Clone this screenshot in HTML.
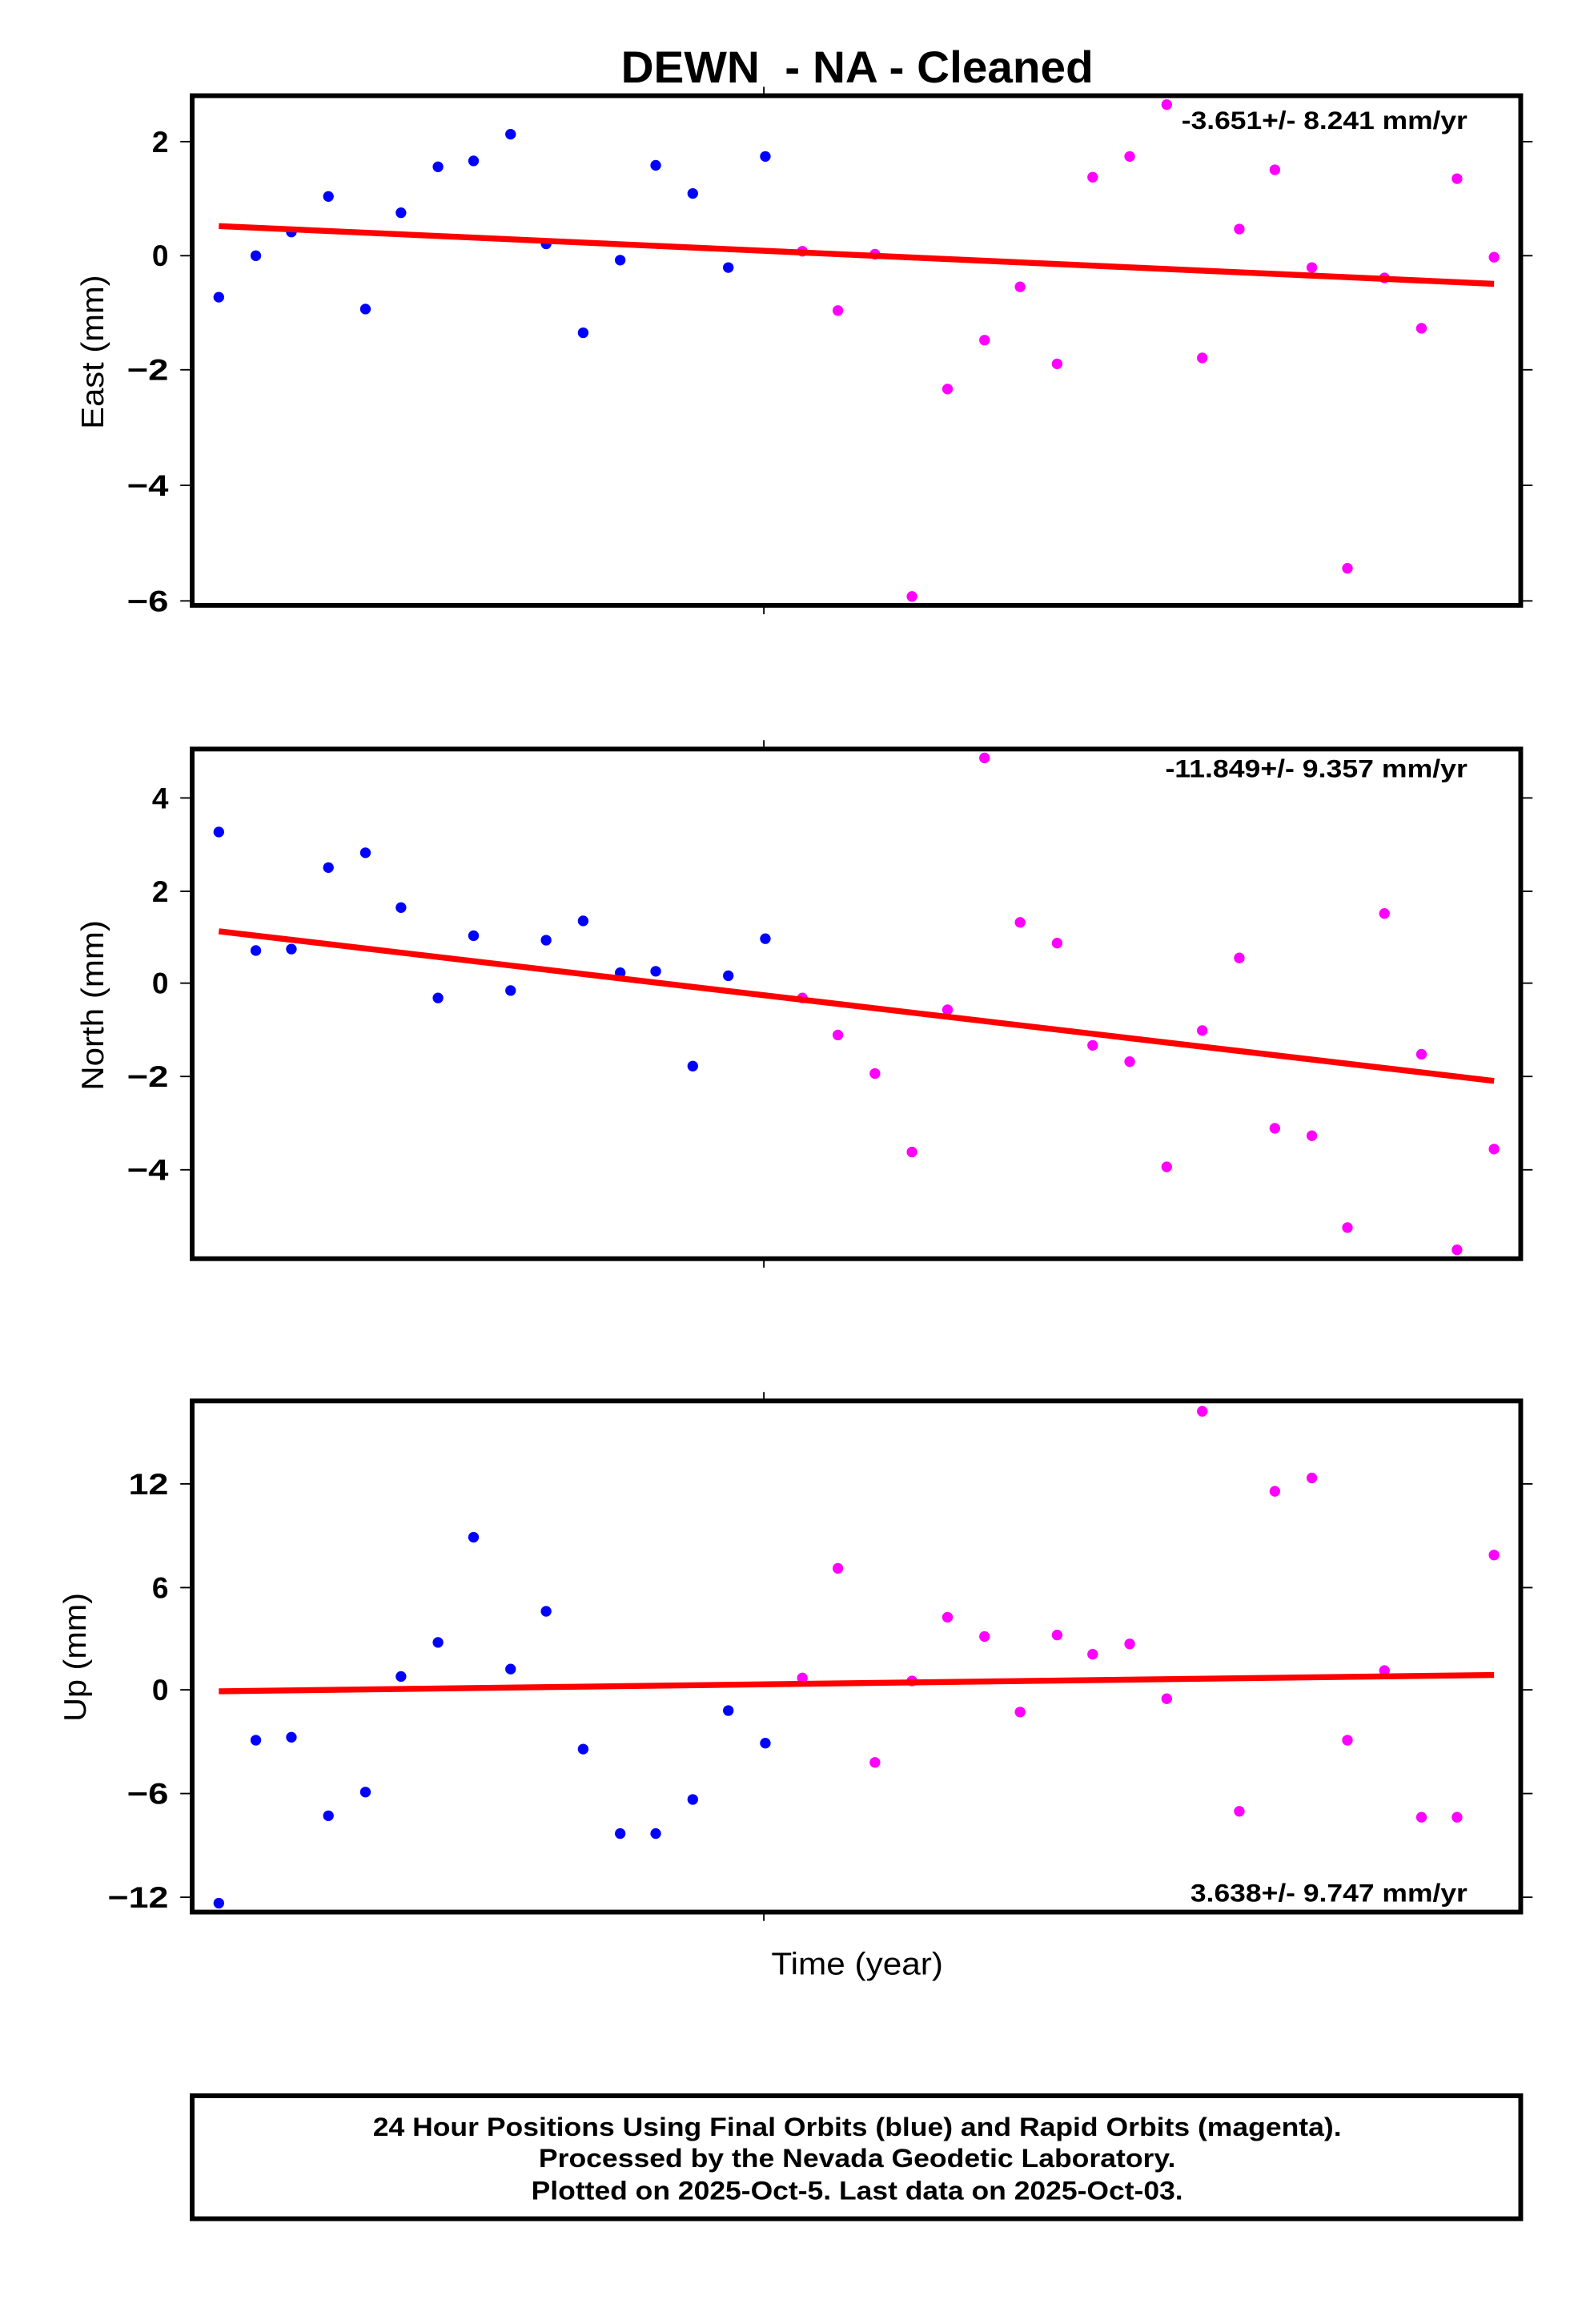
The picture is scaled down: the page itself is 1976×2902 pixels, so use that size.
<!DOCTYPE html>
<html><head><meta charset="utf-8"><style>html,body{margin:0;padding:0;background:#fff}svg{display:block}</style></head>
<body>
<svg width="1976" height="2902" viewBox="0 0 1976 2902" xmlns="http://www.w3.org/2000/svg">
<rect width="1976" height="2902" fill="#fff"/>
<g transform="translate(1.35,1.1) scale(1.85)" font-family="Liberation Sans, Arial, sans-serif">
<text x="578" y="55" font-size="30" font-weight="bold" text-anchor="middle" textLength="319" lengthAdjust="spacingAndGlyphs" xml:space="preserve">DEWN  - NA - Cleaned</text>

<!-- Panel 1 -->
<g stroke="#000" stroke-width="1">
<line x1="121" y1="95" x2="129" y2="95"/><line x1="121" y1="172" x2="129" y2="172"/><line x1="121" y1="249" x2="129" y2="249"/><line x1="121" y1="327" x2="129" y2="327"/><line x1="121" y1="405" x2="129" y2="405"/>
<line x1="1026" y1="95" x2="1034" y2="95"/><line x1="1026" y1="172" x2="1034" y2="172"/><line x1="1026" y1="249" x2="1034" y2="249"/><line x1="1026" y1="327" x2="1034" y2="327"/><line x1="1026" y1="405" x2="1034" y2="405"/>
<line x1="515" y1="58" x2="515" y2="64"/><line x1="515" y1="408" x2="515" y2="414"/>
</g>
<g font-size="20" font-weight="bold" text-anchor="end">
<text x="113" y="102">2</text><text x="113" y="179">0</text><text x="113" y="256" textLength="28" lengthAdjust="spacingAndGlyphs">−2</text><text x="113" y="334" textLength="28" lengthAdjust="spacingAndGlyphs">−4</text><text x="113" y="412" textLength="28" lengthAdjust="spacingAndGlyphs">−6</text>
</g>
<text transform="translate(69,237) rotate(-90)" font-size="21" text-anchor="middle" textLength="104" lengthAdjust="spacingAndGlyphs">East (mm)</text>
<g fill="#00f">
<circle cx="147" cy="200" r="3.6"/><circle cx="172" cy="172" r="3.6"/><circle cx="196" cy="156" r="3.6"/><circle cx="221" cy="132" r="3.6"/><circle cx="246" cy="208" r="3.6"/><circle cx="270" cy="143" r="3.6"/><circle cx="295" cy="112" r="3.6"/><circle cx="319" cy="108" r="3.6"/><circle cx="344" cy="90" r="3.6"/><circle cx="368" cy="164" r="3.6"/><circle cx="393" cy="224" r="3.6"/><circle cx="418" cy="175" r="3.6"/><circle cx="442" cy="111" r="3.6"/><circle cx="467" cy="130" r="3.6"/><circle cx="491" cy="180" r="3.6"/><circle cx="516" cy="105" r="3.6"/>
</g>
<g fill="#f0f">
<circle cx="541" cy="169" r="3.6"/><circle cx="565" cy="209" r="3.6"/><circle cx="590" cy="171" r="3.6"/><circle cx="615" cy="402" r="3.6"/><circle cx="639" cy="262" r="3.6"/><circle cx="664" cy="229" r="3.6"/><circle cx="688" cy="193" r="3.6"/><circle cx="713" cy="245" r="3.6"/><circle cx="737" cy="119" r="3.6"/><circle cx="762" cy="105" r="3.6"/><circle cx="787" cy="70" r="3.6"/><circle cx="811" cy="241" r="3.6"/><circle cx="836" cy="154" r="3.6"/><circle cx="860" cy="114" r="3.6"/><circle cx="885" cy="180" r="3.6"/><circle cx="909" cy="383" r="3.6"/><circle cx="934" cy="187" r="3.6"/><circle cx="959" cy="221" r="3.6"/><circle cx="983" cy="120" r="3.6"/><circle cx="1008" cy="173" r="3.6"/>
</g>
<line x1="147" y1="152" x2="1008" y2="191" stroke="#f00" stroke-width="4"/>
<text x="990" y="86.5" font-size="17" font-weight="bold" text-anchor="end" textLength="193" lengthAdjust="spacingAndGlyphs">-3.651+/- 8.241 mm/yr</text>
<rect x="129" y="64" width="897" height="344" fill="none" stroke="#000" stroke-width="3.2"/>

<!-- Panel 2 -->
<g stroke="#000" stroke-width="1">
<line x1="121" y1="538" x2="129" y2="538"/><line x1="121" y1="601" x2="129" y2="601"/><line x1="121" y1="663" x2="129" y2="663"/><line x1="121" y1="726" x2="129" y2="726"/><line x1="121" y1="789" x2="129" y2="789"/>
<line x1="1026" y1="538" x2="1034" y2="538"/><line x1="1026" y1="601" x2="1034" y2="601"/><line x1="1026" y1="663" x2="1034" y2="663"/><line x1="1026" y1="726" x2="1034" y2="726"/><line x1="1026" y1="789" x2="1034" y2="789"/>
<line x1="515" y1="499" x2="515" y2="505"/><line x1="515" y1="849" x2="515" y2="855"/>
</g>
<g font-size="20" font-weight="bold" text-anchor="end">
<text x="113" y="545">4</text><text x="113" y="608">2</text><text x="113" y="670">0</text><text x="113" y="733" textLength="28" lengthAdjust="spacingAndGlyphs">−2</text><text x="113" y="796" textLength="28" lengthAdjust="spacingAndGlyphs">−4</text>
</g>
<text transform="translate(69,678) rotate(-90)" font-size="21" text-anchor="middle" textLength="115" lengthAdjust="spacingAndGlyphs">North (mm)</text>
<g fill="#00f">
<circle cx="147" cy="561" r="3.6"/><circle cx="172" cy="641" r="3.6"/><circle cx="196" cy="640" r="3.6"/><circle cx="221" cy="585" r="3.6"/><circle cx="246" cy="575" r="3.6"/><circle cx="270" cy="612" r="3.6"/><circle cx="295" cy="673" r="3.6"/><circle cx="319" cy="631" r="3.6"/><circle cx="344" cy="668" r="3.6"/><circle cx="368" cy="634" r="3.6"/><circle cx="393" cy="621" r="3.6"/><circle cx="418" cy="656" r="3.6"/><circle cx="442" cy="655" r="3.6"/><circle cx="467" cy="719" r="3.6"/><circle cx="491" cy="658" r="3.6"/><circle cx="516" cy="633" r="3.6"/>
</g>
<g fill="#f0f">
<circle cx="541" cy="673" r="3.6"/><circle cx="565" cy="698" r="3.6"/><circle cx="590" cy="724" r="3.6"/><circle cx="615" cy="777" r="3.6"/><circle cx="639" cy="681" r="3.6"/><circle cx="664" cy="511" r="3.6"/><circle cx="688" cy="622" r="3.6"/><circle cx="713" cy="636" r="3.6"/><circle cx="737" cy="705" r="3.6"/><circle cx="762" cy="716" r="3.6"/><circle cx="787" cy="787" r="3.6"/><circle cx="811" cy="695" r="3.6"/><circle cx="836" cy="646" r="3.6"/><circle cx="860" cy="761" r="3.6"/><circle cx="885" cy="766" r="3.6"/><circle cx="909" cy="828" r="3.6"/><circle cx="934" cy="616" r="3.6"/><circle cx="959" cy="711" r="3.6"/><circle cx="983" cy="843" r="3.6"/><circle cx="1008" cy="775" r="3.6"/>
</g>
<line x1="147" y1="628" x2="1008" y2="729" stroke="#f00" stroke-width="4"/>
<text x="990" y="524" font-size="17" font-weight="bold" text-anchor="end" textLength="204" lengthAdjust="spacingAndGlyphs">-11.849+/- 9.357 mm/yr</text>
<rect x="129" y="505" width="897" height="344" fill="none" stroke="#000" stroke-width="3.2"/>

<!-- Panel 3 -->
<g stroke="#000" stroke-width="1">
<line x1="121" y1="1001" x2="129" y2="1001"/><line x1="121" y1="1071" x2="129" y2="1071"/><line x1="121" y1="1140" x2="129" y2="1140"/><line x1="121" y1="1210" x2="129" y2="1210"/><line x1="121" y1="1280" x2="129" y2="1280"/>
<line x1="1026" y1="1001" x2="1034" y2="1001"/><line x1="1026" y1="1071" x2="1034" y2="1071"/><line x1="1026" y1="1140" x2="1034" y2="1140"/><line x1="1026" y1="1210" x2="1034" y2="1210"/><line x1="1026" y1="1280" x2="1034" y2="1280"/>
<line x1="515" y1="939" x2="515" y2="945"/><line x1="515" y1="1290" x2="515" y2="1296"/>
</g>
<g font-size="20" font-weight="bold" text-anchor="end">
<text x="113" y="1008" textLength="27" lengthAdjust="spacingAndGlyphs">12</text><text x="113" y="1078">6</text><text x="113" y="1147">0</text><text x="113" y="1217" textLength="28" lengthAdjust="spacingAndGlyphs">−6</text><text x="113" y="1287" textLength="41" lengthAdjust="spacingAndGlyphs">−12</text>
</g>
<text transform="translate(57,1118) rotate(-90)" font-size="21" text-anchor="middle" textLength="87" lengthAdjust="spacingAndGlyphs">Up (mm)</text>
<g fill="#00f">
<circle cx="147" cy="1284" r="3.6"/><circle cx="172" cy="1174" r="3.6"/><circle cx="196" cy="1172" r="3.6"/><circle cx="221" cy="1225" r="3.6"/><circle cx="246" cy="1209" r="3.6"/><circle cx="270" cy="1131" r="3.6"/><circle cx="295" cy="1108" r="3.6"/><circle cx="319" cy="1037" r="3.6"/><circle cx="344" cy="1126" r="3.6"/><circle cx="368" cy="1087" r="3.6"/><circle cx="393" cy="1180" r="3.6"/><circle cx="418" cy="1237" r="3.6"/><circle cx="442" cy="1237" r="3.6"/><circle cx="467" cy="1214" r="3.6"/><circle cx="491" cy="1154" r="3.6"/><circle cx="516" cy="1176" r="3.6"/>
</g>
<g fill="#f0f">
<circle cx="541" cy="1132" r="3.6"/><circle cx="565" cy="1058" r="3.6"/><circle cx="590" cy="1189" r="3.6"/><circle cx="615" cy="1134" r="3.6"/><circle cx="639" cy="1091" r="3.6"/><circle cx="664" cy="1104" r="3.6"/><circle cx="688" cy="1155" r="3.6"/><circle cx="713" cy="1103" r="3.6"/><circle cx="737" cy="1116" r="3.6"/><circle cx="762" cy="1109" r="3.6"/><circle cx="787" cy="1146" r="3.6"/><circle cx="811" cy="952" r="3.6"/><circle cx="836" cy="1222" r="3.6"/><circle cx="860" cy="1006" r="3.6"/><circle cx="885" cy="997" r="3.6"/><circle cx="909" cy="1174" r="3.6"/><circle cx="934" cy="1127" r="3.6"/><circle cx="959" cy="1226" r="3.6"/><circle cx="983" cy="1226" r="3.6"/><circle cx="1008" cy="1049" r="3.6"/>
</g>
<line x1="147" y1="1141" x2="1008" y2="1130" stroke="#f00" stroke-width="4"/>
<text x="990" y="1283" font-size="17" font-weight="bold" text-anchor="end" textLength="187" lengthAdjust="spacingAndGlyphs">3.638+/- 9.747 mm/yr</text>
<rect x="129" y="945" width="897" height="345" fill="none" stroke="#000" stroke-width="3.2"/>

<text x="578" y="1332" font-size="21" text-anchor="middle" textLength="116" lengthAdjust="spacingAndGlyphs">Time (year)</text>

<rect x="129" y="1414" width="897" height="83" fill="none" stroke="#000" stroke-width="3.2"/>
<g font-size="17.5" font-weight="bold" text-anchor="middle">
<text x="578" y="1441" textLength="654" lengthAdjust="spacingAndGlyphs">24 Hour Positions Using Final Orbits (blue) and Rapid Orbits (magenta).</text>
<text x="578" y="1462" textLength="430" lengthAdjust="spacingAndGlyphs">Processed by the Nevada Geodetic Laboratory.</text>
<text x="578" y="1484" textLength="440" lengthAdjust="spacingAndGlyphs">Plotted on 2025-Oct-5. Last data on 2025-Oct-03.</text>
</g>
</g>
</svg>
</body></html>
